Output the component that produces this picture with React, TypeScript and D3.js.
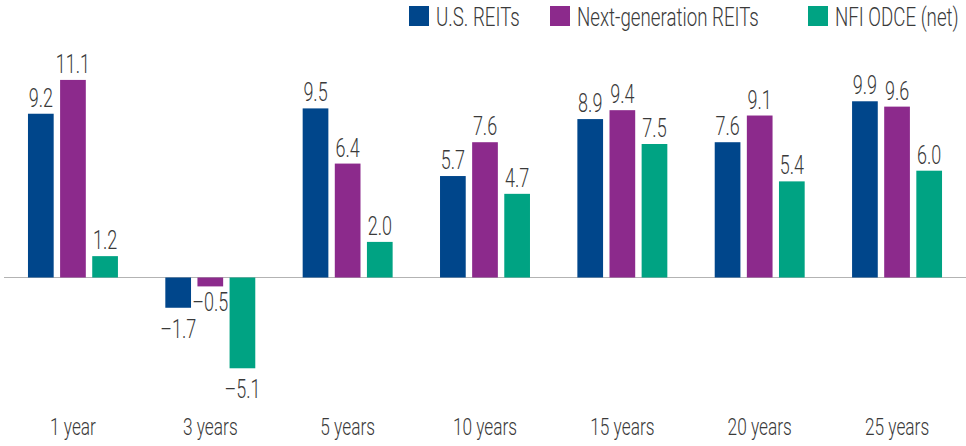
import { useRef, useEffect } from "react";
import * as d3 from "d3";

const periods = ["1 year", "3 years", "5 years", "10 years", "15 years", "20 years", "25 years"];
const seriesNames = ["U.S. REITs", "Next-generation REITs", "NFI ODCE (net)"];
const seriesColors = ["#00468b", "#8c2a8c", "#00a383"];

const usReits = [9.2, -1.7, 9.5, 5.7, 8.9, 7.6, 9.9];
const nextGenReits = [11.1, -0.5, 6.4, 7.6, 9.4, 9.1, 9.6];
const nfiOdce = [1.2, -5.1, 2.0, 4.7, 7.5, 5.4, 6.0];

const seriesValues = [usReits, nextGenReits, nfiOdce];

const W = 966;
const H = 446;
const FONT = "Roboto, 'Liberation Sans', Arial, sans-serif";
const SQUEEZE = 0.72; // horizontal squeeze to get a condensed face
const TEXT_COLOR = "#3a3a3a";

// legend item left edges
const legendX = [409, 550, 808];

export default function App() {
  const svgRef = useRef<SVGSVGElement>(null);

  useEffect(() => {
    if (!svgRef.current) return;
    const svg = d3.select(svgRef.current);
    svg.selectAll("*").remove();

    const x0 = d3
      .scaleBand<string>()
      .domain(periods)
      .range([0.5, 969.5])
      .paddingInner(0.345)
      .paddingOuter(0.2);

    const x1 = d3
      .scaleBand<string>()
      .domain(seriesNames)
      .range([0, x0.bandwidth()])
      .paddingInner(0.2);

    const y = d3.scaleLinear().domain([-6, 12]).range([384.3, 63.9]);

    const rows = periods.flatMap((p, i) =>
      seriesNames.map((s, j) => ({ period: p, series: s, idx: j, value: seriesValues[j][i] }))
    );

    // zero baseline
    svg
      .append("line")
      .attr("x1", 4)
      .attr("x2", W)
      .attr("y1", y(0))
      .attr("y2", y(0))
      .attr("stroke", "#b3b3b3")
      .attr("stroke-width", 1.2);

    const bx = (d: (typeof rows)[number]) => x0(d.period)! + x1(d.series)!;

    svg
      .append("g")
      .selectAll("rect")
      .data(rows)
      .join("rect")
      .attr("x", bx)
      .attr("width", x1.bandwidth())
      .attr("y", (d) => Math.min(y(d.value), y(0)))
      .attr("height", (d) => Math.abs(y(d.value) - y(0)))
      .attr("fill", (d) => seriesColors[d.idx]);

    const styled = (sel: d3.Selection<SVGTextElement, any, any, any>) =>
      sel.attr("font-family", FONT).attr("font-weight", 300).attr("fill", TEXT_COLOR);

    // value labels; the small negative one sits a bit tighter to its bar
    svg
      .append("g")
      .selectAll("text")
      .data(rows)
      .join("text")
      .attr("transform", (d) => {
        const cx = bx(d) + x1.bandwidth() / 2;
        const below = d.value > -1 ? 25 : 30;
        const cy = d.value >= 0 ? y(d.value) - 7 : y(d.value) + below;
        return `translate(${cx},${cy}) scale(${SQUEEZE},1)`;
      })
      .attr("text-anchor", "middle")
      .attr("font-size", 25)
      .call(styled)
      .text((d) => (d.value < 0 ? `\u2013${Math.abs(d.value).toFixed(1)}` : d.value.toFixed(1)));

    // category labels
    svg
      .append("g")
      .selectAll("text")
      .data(periods)
      .join("text")
      .attr("transform", (d) => `translate(${x0(d)! + x0.bandwidth() / 2},435) scale(${SQUEEZE},1)`)
      .attr("text-anchor", "middle")
      .attr("font-size", 24)
      .call(styled)
      .text((d) => d);

    // legend
    const legend = svg
      .append("g")
      .selectAll("g")
      .data(seriesNames)
      .join("g")
      .attr("transform", (_, i) => `translate(${legendX[i]},6)`);

    legend
      .append("rect")
      .attr("width", 20)
      .attr("height", 20)
      .attr("fill", (_, i) => seriesColors[i]);

    legend
      .append("text")
      .attr("transform", `translate(27,20) scale(${SQUEEZE},1)`)
      .attr("font-size", 26)
      .call(styled)
      .text((d) => d);
  }, []);

  return (
    <svg
      ref={svgRef}
      width={W}
      height={H}
      style={{ position: "absolute", left: 0, top: 0, background: "#fff" }}
    />
  );
}
